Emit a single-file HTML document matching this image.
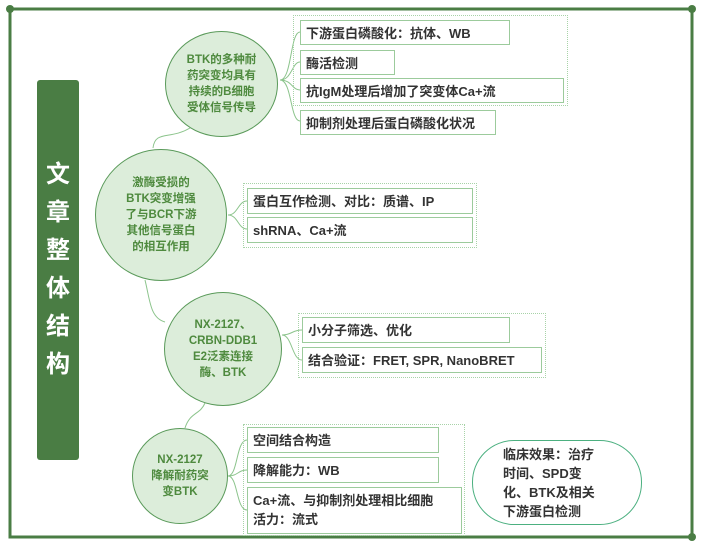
<!DOCTYPE html><html><head><meta charset="utf-8"><style>
body{margin:0;width:702px;height:548px;background:#fff;position:relative;overflow:hidden;font-family:"Liberation Sans","Noto Sans CJK SC",sans-serif}
.a{position:absolute;box-sizing:border-box}
.c{border:1.5px solid #5a9a5a;background:#dcedda;border-radius:50%;display:flex;align-items:center;justify-content:center;text-align:center;color:#4e8a3e;font-weight:bold;font-size:11.5px;line-height:16px}
.b{border:1.5px solid #9ccb9c;background:#fff;color:#333;font-weight:bold;font-size:13px;padding:3px 5px;line-height:19px;white-space:nowrap}
.g{border:1.5px dotted #a8d3a8}
</style></head><body>
<svg class="a" style="left:0;top:0" width="702" height="548">
<g stroke="#4a7d44" stroke-width="3" fill="none"><path d="M10 9H692V537H10Z"/></g>
<g fill="#4a7d44"><circle cx="10" cy="9" r="4"/><circle cx="692" cy="9" r="4"/><circle cx="692" cy="537" r="4"/></g>
<g stroke="#8cc48c" stroke-width="1" fill="none">
<path d="M190 128C170 140 155 130 153 148"/><path d="M145 280C150 300 150 318 165 322"/><path d="M205 403C200 415 190 412 185 428"/>
<path d="M280 80C292 80 290 32 300 32M280 80C292 80 292 62 300 62M280 80C292 80 292 90 300 90M280 80C292 80 290 121 300 121"/>
<path d="M228 215C238 215 238 201 247 201M228 215C238 215 238 229 247 229"/>
<path d="M282 335C292 335 292 330 302 330M282 335C292 335 292 360 302 360"/>
<path d="M228 476C238 476 236 440 247 440M228 476C238 476 238 470 247 470M228 476C238 476 236 510 247 510"/>
</g></svg>
<div class="a" style="left:37px;top:80px;width:42px;height:380px;background:#4a7d44;border-radius:3px;color:#fff;font-weight:bold;font-size:24px;line-height:38px;display:flex;align-items:center;justify-content:center;text-align:center">文<br>章<br>整<br>体<br>结<br>构</div>
<div class="a c" style="left:165px;top:31px;width:113px;height:106px">BTK的多种耐<br>药突变均具有<br>持续的B细胞<br>受体信号传导</div>
<div class="a c" style="left:95px;top:149px;width:132px;height:132px">激酶受损的<br>BTK突变增强<br>了与BCR下游<br>其他信号蛋白<br>的相互作用</div>
<div class="a c" style="left:164px;top:292px;width:118px;height:114px">NX-2127、<br>CRBN-DDB1<br>E2泛素连接<br>酶、BTK</div>
<div class="a c" style="left:132px;top:428px;width:96px;height:96px">NX-2127<br>降解耐药突<br>变BTK</div>
<div class="a g" style="left:293px;top:15px;width:275px;height:91px"></div>
<div class="a b" style="left:300px;top:20px;width:210px;height:25px">下游蛋白磷酸化：抗体、WB</div>
<div class="a b" style="left:300px;top:50px;width:95px;height:25px">酶活检测</div>
<div class="a b" style="left:300px;top:78px;width:264px;height:25px">抗IgM处理后增加了突变体Ca+流</div>
<div class="a b" style="left:300px;top:110px;width:196px;height:25px">抑制剂处理后蛋白磷酸化状况</div>
<div class="a g" style="left:243px;top:183px;width:234px;height:65px"></div>
<div class="a b" style="left:247px;top:188px;width:226px;height:26px">蛋白互作检测、对比：质谱、IP</div>
<div class="a b" style="left:247px;top:217px;width:226px;height:26px">shRNA、Ca+流</div>
<div class="a g" style="left:298px;top:313px;width:248px;height:65px"></div>
<div class="a b" style="left:302px;top:317px;width:208px;height:26px">小分子筛选、优化</div>
<div class="a b" style="left:302px;top:347px;width:240px;height:26px">结合验证：FRET, SPR, NanoBRET</div>
<div class="a g" style="left:243px;top:424px;width:222px;height:112px"></div>
<div class="a b" style="left:247px;top:427px;width:192px;height:26px">空间结合构造</div>
<div class="a b" style="left:247px;top:457px;width:192px;height:26px">降解能力：WB</div>
<div class="a b" style="left:247px;top:487px;width:215px;height:47px">Ca+流、与抑制剂处理相比细胞<br>活力：流式</div>
<div class="a" style="left:472px;top:440px;width:170px;height:85px;border:1.5px solid #4cb080;border-radius:42px;color:#333;font-weight:bold;font-size:13px;line-height:19px;padding:4px 0 0 30px">临床效果：治疗<br>时间、SPD变<br>化、BTK及相关<br>下游蛋白检测</div>
</body></html>
